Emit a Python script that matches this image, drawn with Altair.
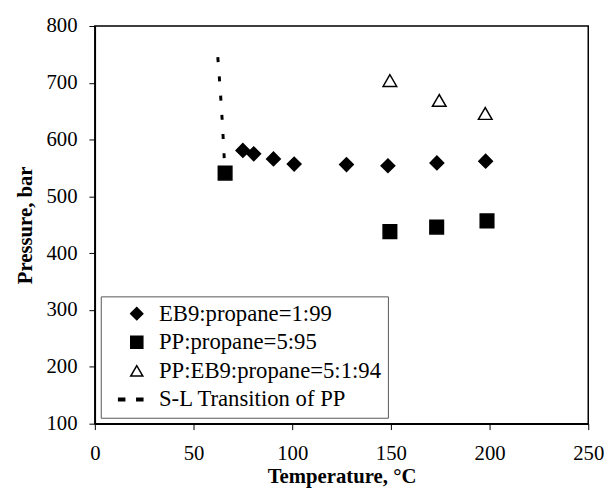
import altair as alt
import pandas as pd

# EB9:propane = 1:99
eb9_T = [75, 80.5, 90.5, 101, 127.5, 148.5, 173.3, 198]
eb9_P = [581, 575, 566, 557, 556, 554, 559, 562]
# PP:propane = 5:95
pp_T = [66, 149.5, 173.2, 198.7]
pp_P = [541, 438, 446, 457]
# PP:EB9:propane = 5:1:94
mix_T = [149.5, 174.5, 197.8]
mix_P = [704, 669, 646]
# S-L transition of PP (dashed curve)
sl_T = [62.3, 63.5, 64.6, 65.6]
sl_P = [745, 690, 630, 565]

series = ["EB9:propane=1:99", "PP:propane=5:95", "PP:EB9:propane=5:1:94", "S-L Transition of PP"]
shapes = ["diamond", "square", "triangle-up",
          "M-3.0,-0.2L-2.0,-0.2L-2.0,0.2L-3.0,0.2ZM0.0,-0.2L1.0,-0.2L1.0,0.2L0.0,0.2Z"]
fills = ["black", "black", "white", "black"]
strokes = ["black", "black", "black", "black"]

pts = pd.concat([
    pd.DataFrame({"T": eb9_T, "P": eb9_P, "series": series[0]}),
    pd.DataFrame({"T": pp_T, "P": pp_P, "series": series[1]}),
    pd.DataFrame({"T": mix_T, "P": mix_P, "series": series[2]}),
])
sl = pd.DataFrame({"T": sl_T, "P": sl_P})

FONT = "Times New Roman, Liberation Serif, DejaVu Serif, serif"

xenc = alt.X("T:Q", scale=alt.Scale(domain=[0, 250], nice=False, zero=False),
             axis=alt.Axis(values=[0, 50, 100, 150, 200, 250], title="Temperature, °C",
                           labelPadding=13, titlePadding=3, labelFlush=False))
yenc = alt.Y("P:Q", scale=alt.Scale(domain=[100, 800], nice=False, zero=False),
             axis=alt.Axis(values=[100, 200, 300, 400, 500, 600, 700, 800], title="Pressure, bar",
                           labelPadding=12, titlePadding=11, labelFlush=False))

leg = alt.Legend(title=None, orient="none", legendX=6, legendY=274)

points = alt.Chart(pts).mark_point(size=190, strokeWidth=1.5, opacity=1).encode(
    x=xenc, y=yenc,
    shape=alt.Shape("series:N", scale=alt.Scale(domain=series, range=shapes), legend=leg),
    fill=alt.Fill("series:N", scale=alt.Scale(domain=series, range=fills), legend=leg),
    stroke=alt.Stroke("series:N", scale=alt.Scale(domain=series, range=strokes), legend=leg),
)

line = alt.Chart(sl).mark_line(color="black", strokeWidth=3, strokeDash=[5, 14.5]).encode(
    x=xenc, y=yenc)

chart = alt.layer(line, points).properties(
    width=500, height=403,
    autosize=alt.AutoSizeParams(type="none"),
    padding={"left": 88, "top": 15, "right": 19, "bottom": 65},
).configure_view(stroke="black", strokeWidth=1.5).configure_axis(
    grid=False, domainColor="black", domainWidth=1.5, tickColor="black", tickSize=6,
    labelFont=FONT, labelFontSize=21, labelColor="black",
    titleFont=FONT, titleFontSize=21, titleFontWeight="bold", titleColor="black",
).configure_legend(
    labelFont=FONT, labelFontSize=23, labelColor="black",
    symbolSize=150, symbolStrokeColor="black", symbolStrokeWidth=1.5,
    strokeColor="#555555", fillColor="white", padding=6, rowPadding=5,
    symbolOffset=19, labelOffset=11, labelLimit=400,
)

chart.save("out.html", embed_options={"renderer": "svg", "actions": False})
